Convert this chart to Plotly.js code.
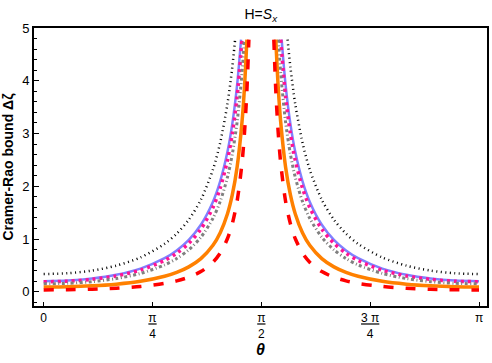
<!DOCTYPE html>
<html>
<head>
<meta charset="utf-8">
<script src="https://cdn.plot.ly/plotly-3.0.1.min.js"></script>
<style>html,body{margin:0;padding:0;background:#fff;}#chart{width:492px;height:363px;}</style>
</head>
<body>
<div id="chart"></div>
<script>
// theta in degrees (axis labelled in multiples of pi)
const blackDegL = [0,10,20,30,40,50,55,60,65,70,73,76,78,79.15];
const blackValL = [0.335,0.351,0.401,0.495,0.650,0.908,1.101,1.366,1.744,2.318,2.830,3.566,4.263,4.78];
const blackDegR = [100.85,102,104,107,110,115,120,125,130,140,150,160,170,180];
const blackValR = [4.78,4.263,3.566,2.830,2.318,1.744,1.366,1.101,0.908,0.650,0.495,0.401,0.351,0.335];

const blueDegL = [0,10,20,30,40,50,55,60,65,70,73,76,78,80,81.6];
const blueValL = [0.200,0.212,0.250,0.321,0.439,0.636,0.783,0.984,1.271,1.708,2.098,2.657,3.187,3.931,4.78];
const blueDegR = [98.4,100,102,104,107,110,115,120,125,130,140,150,160,170,180];
const blueValR = [4.78,3.931,3.187,2.657,2.098,1.708,1.271,0.984,0.783,0.636,0.439,0.321,0.250,0.212,0.200];

const magentaDegL = [0,10,20,30,40,50,55,60,65,70,73,76,78,80,82];
const magentaValL = [0.190,0.200,0.235,0.300,0.410,0.592,0.730,0.918,1.188,1.598,1.966,2.495,2.997,3.700,4.78];
const magentaDegR = [98,100,102,104,107,110,115,120,125,130,140,150,160,170,180];
const magentaValR = [4.78,3.700,2.997,2.495,1.966,1.598,1.188,0.918,0.730,0.592,0.410,0.300,0.235,0.200,0.190];

const grayDegL = [0,10,20,30,40,50,55,60,65,70,73,76,78,80,82,82.97];
const grayValL = [0.150,0.160,0.191,0.250,0.347,0.509,0.630,0.796,1.033,1.393,1.714,2.174,2.611,3.224,4.146,4.78];
const grayDegR = [97.03,98,100,102,104,107,110,115,120,125,130,140,150,160,170,180];
const grayValR = [4.78,4.146,3.224,2.611,2.174,1.714,1.393,1.033,0.796,0.630,0.509,0.347,0.250,0.191,0.160,0.150];

const orangeDegL = [0,10,20,30,40,50,55,60,65,70,73,76,78,80,82,83,84.03];
const orangeValL = [0.090,0.095,0.112,0.144,0.198,0.293,0.367,0.472,0.629,0.882,1.120,1.480,1.840,2.370,3.218,3.856,4.78];
const orangeDegR = [95.97,97,98,100,102,104,107,110,115,120,125,130,140,150,160,170,180];
const orangeValR = [4.78,3.856,3.218,2.370,1.840,1.480,1.120,0.882,0.629,0.472,0.367,0.293,0.198,0.144,0.112,0.095,0.090];

const redDegL = [0,10,20,30,40,50,55,60,65,70,73,76,78,80,82,83,84,84.84];
const redValL = [0.035,0.038,0.048,0.067,0.100,0.159,0.206,0.276,0.382,0.561,0.736,1.009,1.292,1.722,2.438,2.997,3.790,4.78];
const redDegR = [95.16,96,97,98,100,102,104,107,110,115,120,125,130,140,150,160,170,180];
const redValR = [4.78,3.790,2.997,2.438,1.722,1.292,1.009,0.736,0.561,0.382,0.276,0.206,0.159,0.100,0.067,0.048,0.038,0.035];

const xTickVals = [0,45,90,135,180];
const xTickNum = ["0","π","π","3 π","π"];
const xTickDen = ["","4","2","4",""];

function frac(n, d) {
  if (!d) return n;
  return '<span style="text-decoration:underline">' + n + '</span><br>' + d;
}

function mk(xl, yl, xr, yr, color, width, dash) {
  return {
    type: 'scatter', mode: 'lines',
    x: xl.concat([null], xr), y: yl.concat([null], yr),
    connectgaps: false, hoverinfo: 'skip',
    line: {color: color, width: width, dash: dash, shape: 'spline', smoothing: 0.8}
  };
}

const traces = [
  mk(blackDegL, blackValL, blackDegR, blackValR, '#000000', 2.5, '1px,3.5px'),
  mk(blueDegL, blueValL, blueDegR, blueValR, '#8080ff', 2.5, 'solid'),
  mk(magentaDegL, magentaValL, magentaDegR, magentaValR, '#ff1493', 3.5, '3px,4px'),
  mk(grayDegL, grayValL, grayDegR, grayValR, '#808080', 3, '3px,2.5px,1px,2.5px'),
  mk(orangeDegL, orangeValL, orangeDegR, orangeValR, '#ff8000', 3.5, 'solid'),
  mk(redDegL, redValL, redDegR, redValR, '#ff0000', 3.5, '10px,12px')
];

const font = 'Liberation Sans, Arial, sans-serif';

const layout = {
  width: 492, height: 363,
  margin: {l: 34, r: 5, t: 28, b: 57},
  paper_bgcolor: '#fff', plot_bgcolor: '#fff',
  showlegend: false,
  font: {family: font, color: '#000', size: 12},
  title: {text: 'H=<i>S</i><sub><i>x</i></sub>', font: {family: font, size: 14, color: '#000'},
          x: 0.53, xanchor: 'center', y: 0.962, yanchor: 'middle', yref: 'container'},
  xaxis: {
    range: [-4.0, 183.3], showgrid: false, zeroline: false,
    showline: true, linecolor: '#000', linewidth: 2, mirror: true,
    ticks: 'inside', ticklen: 4, tickwidth: 1, tickcolor: '#000',
    tickmode: 'array', tickvals: xTickVals,
    ticktext: xTickNum.map((n, i) => frac(n, xTickDen[i])),
    tickfont: {family: font, size: 12, color: '#000'},
    title: {text: '<b><i>θ</i></b>', font: {family: font, size: 16, color: '#000'}, standoff: 4}
  },
  yaxis: {
    range: [-0.27, 5.0], showgrid: false, zeroline: false,
    showline: true, linecolor: '#000', linewidth: 2, mirror: true,
    ticks: 'inside', ticklen: 5, tickwidth: 1, tickcolor: '#000',
    tickvals: [0,1,2,3,4,5],
    minor: {dtick: 0.2, ticks: 'inside', ticklen: 3, tickwidth: 1, tickcolor: '#000', showgrid: false},
    tickfont: {family: font, size: 13, color: '#000'},
    title: {text: '<b>Cramer-Rao bound Δζ</b>', font: {family: font, size: 14, color: '#000'}, standoff: 5}
  }
};

Plotly.newPlot('chart', traces, layout, {displayModeBar: false, staticPlot: true});
</script>
</body>
</html>
